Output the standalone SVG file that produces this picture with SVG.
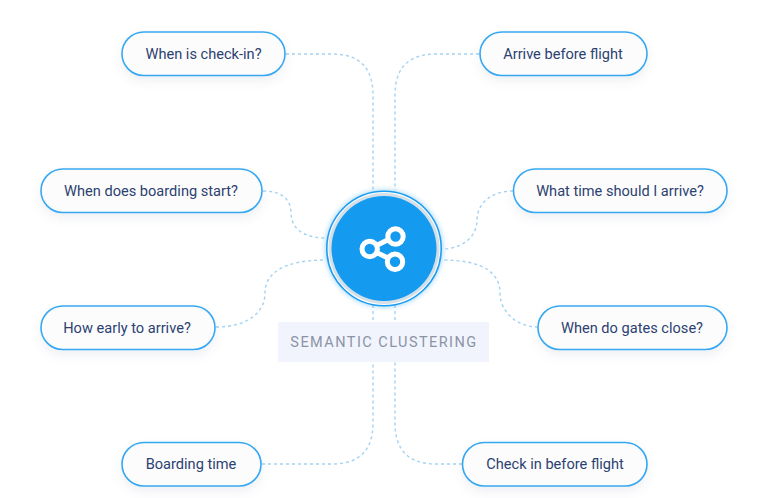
<svg xmlns="http://www.w3.org/2000/svg" width="768" height="498" viewBox="0 0 768 498">
<style>
.pill{fill:#fcfcfd;stroke:#36a8f1;stroke-width:1.6;filter:url(#sh)}
.t{font-family:Roboto,"Liberation Sans",sans-serif;font-size:14.6px;fill:#2c4270;text-anchor:middle}
.c{fill:none;stroke:#a3d2f2;stroke-width:1.4;stroke-dasharray:3 3}
</style>
<defs>
<filter id="sh" x="-20%" y="-40%" width="140%" height="200%"><feDropShadow dx="0" dy="5" stdDeviation="5" flood-color="#5a6a90" flood-opacity=".1"/></filter>
<filter id="gl" x="-30%" y="-30%" width="160%" height="160%"><feGaussianBlur stdDeviation="2.5"/></filter>
</defs>
<rect width="768" height="498" fill="#fff"/>
<g id="connectors">
<path class="c" d="M286 54H332Q373 54 373 95V190"/>
<path class="c" d="M479 54H436Q395 54 395 95V190"/>
<path class="c" d="M263 191C280 191 291 198 291 213C291 228 303 238 326 238"/>
<path class="c" d="M216 327C248 327 265 312 265 293C265 274 282 260 326 260"/>
<path class="c" d="M513 191C492 191 477 203 477 220C477 237 462 249 442 249"/>
<path class="c" d="M538 327C517 327 500 312 500 293C500 274 485 260 442 260"/>
<path class="c" d="M262 464H332Q373 464 373 423V362"/>
<path class="c" d="M462 464H436Q395 464 395 423V362"/>
<path class="c" d="M373 305V322M395 305V322"/>
</g>
<g id="center">
<circle cx="384" cy="248.500" r="59" fill="#6cc0f5" opacity=".55" filter="url(#gl)"/>
<circle cx="384" cy="248.500" r="57.200" fill="#fff" stroke="#1d9df0" stroke-width="1.600"/>
<circle cx="384" cy="248.500" r="55.500" fill="#d5dfe8"/>
<circle cx="384" cy="248.500" r="52.500" fill="#149bf0"/>
<g fill="none" stroke="#fff" stroke-width="5">
<circle cx="369.700" cy="249" r="7.700"/>
<circle cx="395.500" cy="236.500" r="7.700"/>
<circle cx="395" cy="261.700" r="7.700"/>
<path d="M376.500 245.500L388.500 239.500M376.500 252.500L388 258"/>
</g>
</g>
<g id="label">
<rect x="278" y="322" width="211" height="40" fill="#f1f4fd"/>
<text x="384" y="347" font-family="Roboto,'Liberation Sans',sans-serif" font-size="14.500" letter-spacing="1.450" fill="#8b93a5" text-anchor="middle">SEMANTIC CLUSTERING</text>
</g>
<g id="n1"><rect class="pill" x="122" y="32" width="163" height="43.500" rx="21.700"/><text class="t" x="203.500" y="59">When is check-in?</text></g>
<g id="n2"><rect class="pill" x="480" y="32" width="167" height="43.500" rx="21.700"/><text class="t" x="563" y="59">Arrive before flight</text></g>
<g id="n3"><rect class="pill" x="41" y="169" width="221" height="43.500" rx="21.700"/><text class="t" x="151" y="195.500">When does boarding start?</text></g>
<g id="n4"><rect class="pill" x="513.500" y="169" width="213.500" height="43.500" rx="21.700"/><text class="t" x="620" y="195.500">What time should I arrive?</text></g>
<g id="n5"><rect class="pill" x="41" y="306" width="174" height="43.500" rx="21.700"/><text class="t" x="127" y="332.500">How early to arrive?</text></g>
<g id="n6"><rect class="pill" x="538" y="306" width="189" height="43.500" rx="21.700"/><text class="t" x="632" y="332.500">When do gates close?</text></g>
<g id="n7"><rect class="pill" x="122" y="442.500" width="139" height="43.500" rx="21.700"/><text class="t" x="191" y="469">Boarding time</text></g>
<g id="n8"><rect class="pill" x="462.500" y="442.500" width="184.500" height="43.500" rx="21.700"/><text class="t" x="555" y="469">Check in before flight</text></g>
</svg>
